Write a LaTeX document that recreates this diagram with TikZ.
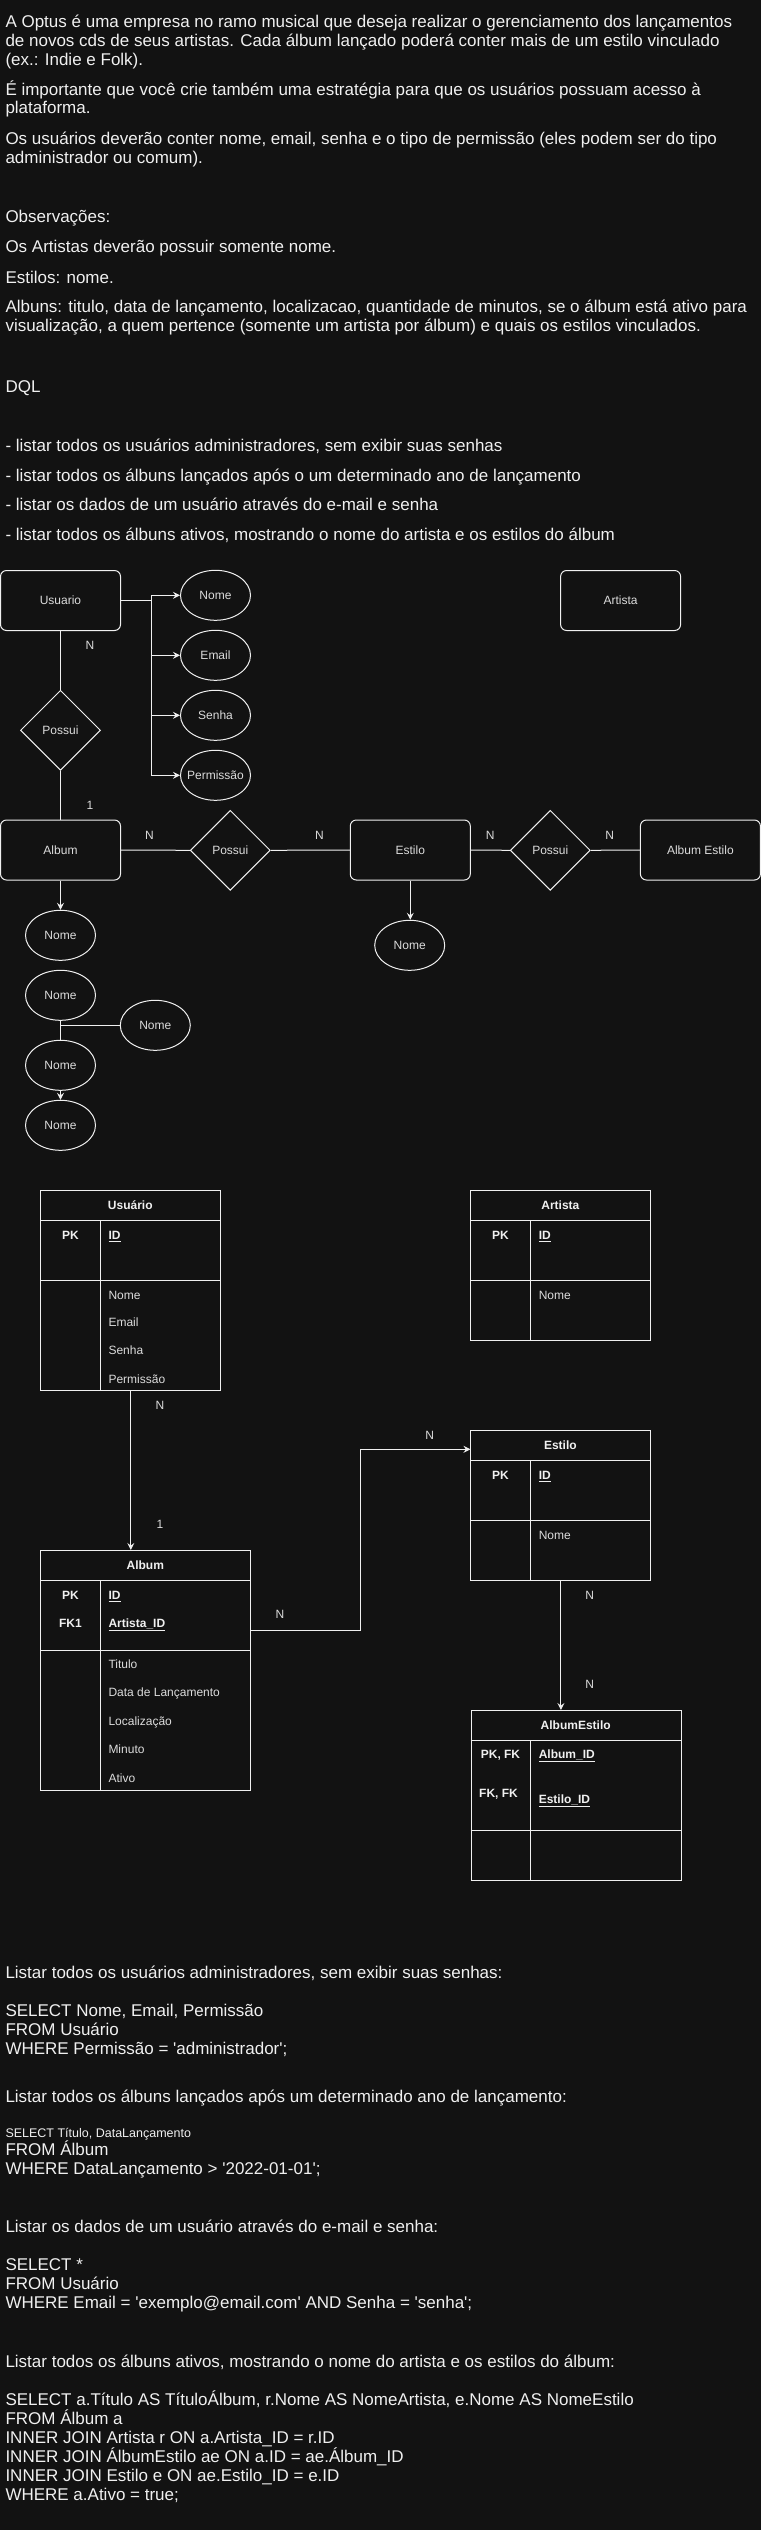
\documentclass[tikz,border=0pt]{standalone}
\usepackage{fontspec}
\setmainfont{Liberation Sans}[Ligatures=TeXOff]
\usetikzlibrary{shapes.geometric,arrows.meta}
\definecolor{bg}{HTML}{121212}
\definecolor{fg}{HTML}{F0F0F0}
\definecolor{lbl}{HTML}{DCDCDC}
\begin{document}
\begin{tikzpicture}[x=1pt,y=-1pt,
  line width=1pt,
  every node/.style={inner sep=0pt},
  txt/.style={anchor=west, text=fg, font=\fontsize{17}{19}\selectfont, text height=12.2pt, text depth=0pt},
  sml/.style={anchor=west, text=fg, font=\fontsize{12.5}{15}\selectfont, text height=9pt, text depth=0pt},
  lab/.style={text=lbl, font=\fontsize{12}{14}\selectfont, text height=8.6pt, text depth=0pt},
  ent/.style={draw=fg, rounded corners=6pt, minimum width=120pt, minimum height=60pt, lab},
  attr/.style={draw=fg, ellipse, minimum width=70pt, minimum height=50pt},
  rel/.style={draw=fg, diamond, minimum width=80pt, minimum height=80pt},
  conn/.style={draw=fg, line width=1pt},
  arr/.style={conn, -{Stealth[length=7pt,width=7pt,inset=2.5pt]}},
  every label/.style={lab},
  tbl/.style={draw=fg, anchor=north west},
  th/.style={text=fg, font=\bfseries\fontsize{12}{14}\selectfont, text height=8.6pt, text depth=0pt},
  tkl/.style={th, anchor=west},
  tat/.style={lab, anchor=west},
]
\fill[bg] (0,0) rectangle (761,2530);
\useasboundingbox (0,0) rectangle (761,2530);

% ---------- statement text ----------
\node[txt] (p1a) at (5,21) {A Optus é uma empresa no ramo musical que deseja realizar o gerenciamento dos lançamentos};
\node[txt] (p1b) at (5,40) {de novos cds de seus artistas. Cada álbum lançado poderá conter mais de um estilo vinculado};
\node[txt] (p1c) at (5,59) {(ex.: Indie e Folk).};
\node[txt] (p2a) at (5,89) {É importante que você crie também uma estratégia para que os usuários possuam acesso à};
\node[txt] (p2b) at (5,107.5) {plataforma.};
\node[txt] (p3a) at (5,138.5) {Os usuários deverão conter nome, email, senha e o tipo de permissão (eles podem ser do tipo};
\node[txt] (p3b) at (5,157) {administrador ou comum).};
\node[txt] (obs) at (5,216) {Observações:};
\node[txt] (obs1) at (5,246.5) {Os Artistas deverão possuir somente nome.};
\node[txt] (obs2) at (5,277) {Estilos: nome.};
\node[txt] (obs3a) at (5,306.5) {Albuns: titulo, data de lançamento, localizacao, quantidade de minutos, se o álbum está ativo para};
\node[txt] (obs3b) at (5,325.5) {visualização, a quem pertence (somente um artista por álbum) e quais os estilos vinculados.};
\node[txt] (dql) at (5,386.5) {DQL};
\node[txt] (d1) at (5,445.5) {- listar todos os usuários administradores, sem exibir suas senhas};
\node[txt] (d2) at (5,475) {- listar todos os álbuns lançados após o um determinado ano de lançamento};
\node[txt] (d3) at (5,504.5) {- listar os dados de um usuário através do e-mail e senha};
\node[txt] (d4) at (5,534) {- listar todos os álbuns ativos, mostrando o nome do artista e os estilos do álbum};

% ---------- conceptual ER ----------
\node[ent] (usu) at (60.5,600.5) {Usuario};
\node[ent] (art) at (620.6,600.5) {Artista};
\node[attr,label=center:Nome] (anome) at (215.5,595.3) {};
\node[attr,label=center:Email] (aemail) at (215.5,655.3) {};
\node[attr,label=center:Senha] (asenha) at (215.5,715.3) {};
\node[attr,label=center:Permissão] (aperm) at (215.5,775.3) {};
\node[rel,label=center:Possui] (r1) at (60.5,730.3) {};
\node[ent] (alb) at (60.5,850) {Album};
\node[rel,label=center:Possui] (r2) at (230.3,850.3) {};
\node[ent] (est) at (410.3,850) {Estilo};
\node[rel,label=center:Possui] (r3) at (550.3,850.3) {};
\node[ent] (ae) at (700.4,850) {Album Estilo};

\node[lab] (cn1) at (90,645) {N};
\node[lab] (cn2) at (90,805) {1};
\node[lab] (cn3) at (149.5,835) {N};
\node[lab] (cn4) at (319.4,835) {N};
\node[lab] (cn5) at (490.3,835) {N};
\node[lab] (cn6) at (609.7,835) {N};

\node[attr,label=center:Nome] (an1) at (60.5,935.3) {};
\node[attr,label=center:Nome] (an2) at (60.5,995.3) {};
\node[attr,label=center:Nome] (an3) at (155.3,1025.3) {};
\node[attr,label=center:Nome] (an4) at (60.5,1065.3) {};
\node[attr,label=center:Nome] (an5) at (60.5,1125.3) {};
\node[attr,label=center:Nome] (an6) at (409.7,945.3) {};

\draw[arr] (usu.east) -- ++(30.5,0) |- (anome.west);
\draw[arr] (usu.east) -- ++(30.5,0) |- (aemail.west);
\draw[arr] (usu.east) -- ++(30.5,0) |- (asenha.west);
\draw[arr] (usu.east) -- ++(30.5,0) |- (aperm.west);
\draw[conn] (usu.south) -- (r1.north);
\draw[conn] (r1.south) -- (alb.north);
\draw[conn] (alb.east) -- (r2.west);
\draw[conn] (r2.east) -- (est.west);
\draw[conn] (est.east) -- (r3.west);
\draw[conn] (r3.east) -- (ae.west);
\draw[arr] (alb.south) -- (an1.north);
\draw[arr] (est.south) -- (est.south |- an6.north);
\draw[conn] (an2.south) -- (an4.north);
\draw[conn] (an3.west) -- (an3.west -| an2.south);
\draw[arr] (an4.south) -- (an5.north);

% ---------- logical tables ----------
% Usuario
\node[tbl, minimum width=180pt, minimum height=200pt] (tUsu) at (40.3,1190) {};
\draw[conn] (40.3,1220) -- (220.3,1220);
\draw[conn] (40.3,1280) -- (220.3,1280);
\draw[conn] (100.5,1220) -- (100.5,1390);
\node[th] (tUsuH) at (130.3,1205) {Usuário};
\node[th] (tUsuPK) at (70.4,1235) {PK};
\node[tkl] (tUsuID) at (108,1235) {\underline{ID}};
\node[tat] (tUsu1) at (108,1294.7) {Nome};
\node[tat] (tUsu2) at (108,1321.7) {Email};
\node[tat] (tUsu3) at (108,1349.7) {Senha};
\node[tat] (tUsu4) at (108,1378.7) {Permissão};

% Artista
\node[tbl, minimum width=180pt, minimum height=150pt] (tArt) at (470.4,1190) {};
\draw[conn] (470.4,1220) -- (650.4,1220);
\draw[conn] (470.4,1280) -- (650.4,1280);
\draw[conn] (530.6,1220) -- (530.6,1340);
\node[th] (tArtH) at (560.4,1205) {Artista};
\node[th] (tArtPK) at (500.5,1235) {PK};
\node[tkl] (tArtID) at (538.3,1235) {\underline{ID}};
\node[tat] (tArt1) at (538.3,1294.7) {Nome};

% Estilo
\node[tbl, minimum width=180pt, minimum height=150pt] (tEst) at (470.4,1430) {};
\draw[conn] (470.4,1460) -- (650.4,1460);
\draw[conn] (470.4,1520) -- (650.4,1520);
\draw[conn] (530.6,1460) -- (530.6,1580);
\node[th] (tEstH) at (560.4,1445) {Estilo};
\node[th] (tEstPK) at (500.5,1475) {PK};
\node[tkl] (tEstID) at (538.3,1475) {\underline{ID}};
\node[tat] (tEst1) at (538.3,1534.7) {Nome};

% Album
\node[tbl, minimum width=210pt, minimum height=240pt] (tAlb) at (40.3,1550) {};
\draw[conn] (40.3,1580) -- (250.3,1580);
\draw[conn] (40.3,1650) -- (250.3,1650);
\draw[conn] (100.5,1580) -- (100.5,1790);
\node[th] (tAlbH) at (145.3,1565) {Album};
\node[th] (tAlbPK) at (70.4,1595) {PK};
\node[tkl] (tAlbID) at (108,1595) {\underline{ID}};
\node[th] (tAlbFK) at (70.4,1622.7) {FK1};
\node[tkl] (tAlbAID) at (108,1622.7) {\underline{Artista\_ID}};
\node[tat] (tAlb1) at (108,1664.3) {Titulo};
\node[tat] (tAlb2) at (108,1691.7) {Data de Lançamento};
\node[tat] (tAlb3) at (108,1720.7) {Localização};
\node[tat] (tAlb4) at (108,1749.3) {Minuto};
\node[tat] (tAlb5) at (108,1777.7) {Ativo};

% AlbumEstilo
\node[tbl, minimum width=210pt, minimum height=170pt] (tAE) at (470.7,1710) {};
\draw[conn] (470.7,1740) -- (680.7,1740);
\draw[conn] (470.7,1830) -- (680.7,1830);
\draw[conn] (530.7,1740) -- (530.7,1880);
\node[th] (tAEH) at (575.7,1725) {AlbumEstilo};
\node[th] (tAEPK) at (500.5,1754.3) {PK, FK};
\node[tkl] (tAEID1) at (538.3,1754.3) {\underline{Album\_ID}};
\node[th] (tAEFK) at (498.5,1792.7) {FK, FK};
\node[tkl] (tAEID2) at (538.3,1799.3) {\underline{Estilo\_ID}};

% table connectors
\coordinate (c1) at (250.3,1630.3);
\coordinate (c2) at (360.7,1630.3);
\draw[arr] (tUsu.south) -- (tUsu.south |- tAlb.north);
\draw[arr] (c1) -- (c2) |- (tEst.west |- 0,1449.3);
\draw[arr] (tEst.south) -- (tEst.south |- tAE.north);
\node[lab] (ln1) at (160,1405) {N};
\node[lab] (ln2) at (160,1524.3) {1};
\node[lab] (ln3) at (429.6,1435) {N};
\node[lab] (ln4) at (280,1614.3) {N};
\node[lab] (ln5) at (589.8,1594.7) {N};
\node[lab] (ln6) at (589.8,1684.3) {N};

% ---------- SQL ----------
\node[txt] (q1) at (5,1972.7) {Listar todos os usuários administradores, sem exibir suas senhas:};
\node[txt] (q1a) at (5,2010.5) {SELECT Nome, Email, Permissão};
\node[txt] (q1b) at (5,2029.5) {FROM Usuário};
\node[txt] (q1c) at (5,2048.5) {WHERE Permissão = 'administrador';};
\node[txt] (q2) at (5,2096.7) {Listar todos os álbuns lançados após um determinado ano de lançamento:};
\node[sml] (q2a) at (5,2132.7) {SELECT Título, DataLançamento};
\node[txt] (q2b) at (5,2149.3) {FROM Álbum};
\node[txt] (q2c) at (5,2168.3) {WHERE DataLançamento > '2022-01-01';};
\node[txt] (q3) at (5,2226.7) {Listar os dados de um usuário através do e-mail e senha:};
\node[txt] (q3a) at (5,2264.3) {SELECT *};
\node[txt] (q3b) at (5,2283.3) {FROM Usuário};
\node[txt] (q3c) at (5,2302.5) {WHERE Email = 'exemplo@email.com' AND Senha = 'senha';};
\node[txt] (q4) at (5,2361) {Listar todos os álbuns ativos, mostrando o nome do artista e os estilos do álbum:};
\node[txt] (q4a) at (5,2399.3) {SELECT a.Título AS TítuloÁlbum, r.Nome AS NomeArtista, e.Nome AS NomeEstilo};
\node[txt] (q4b) at (5,2418.7) {FROM Álbum a};
\node[txt] (q4c) at (5,2437.3) {INNER JOIN Artista r ON a.Artista\_ID = r.ID};
\node[txt] (q4d) at (5,2456.7) {INNER JOIN ÁlbumEstilo ae ON a.ID = ae.Álbum\_ID};
\node[txt] (q4e) at (5,2475.3) {INNER JOIN Estilo e ON ae.Estilo\_ID = e.ID};
\node[txt] (q4f) at (5,2494.3) {WHERE a.Ativo = true;};
\end{tikzpicture}
\end{document}
